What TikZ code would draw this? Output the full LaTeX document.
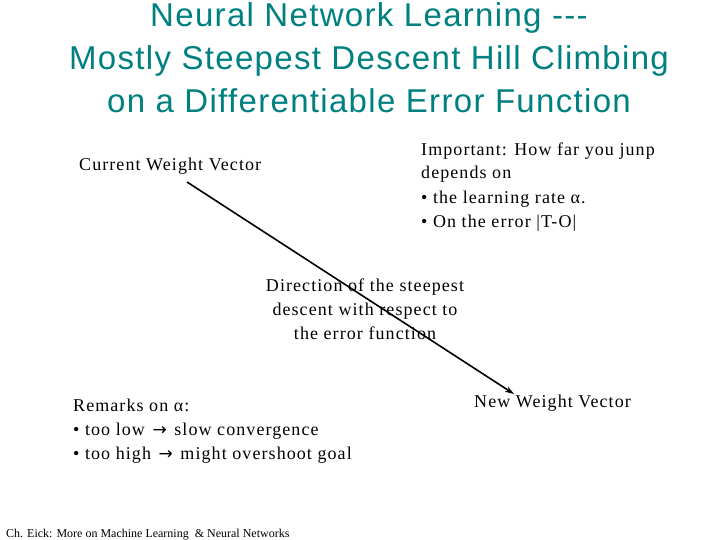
\documentclass[tikz,border=0pt]{standalone}
\usepackage{fontspec}
\setmainfont{Liberation Serif}[LetterSpace=6]
\newfontfamily\headfont{Liberation Sans}[LetterSpace=4]
\newfontfamily\notefont{Liberation Serif}
\newfontfamily\symfont{DejaVu Sans}
\newcommand{\goesto}{\hspace{2pt}{\symfont\fontsize{17}{24}\selectfont →}\hspace{2pt}}
\usetikzlibrary{arrows.meta}

\begin{document}
\begin{tikzpicture}[
    x=1pt, y=-1pt,
    >={Stealth[length=9pt, width=6pt]},
    % --- Styles ---
    heading/.style={
        font=\headfont\fontsize{33}{43}\selectfont,
        text=title_teal, align=center, inner sep=0pt, anchor=base
    },
    body/.style={
        font=\fontsize{18}{24}\selectfont,
        text=black, align=left, inner sep=0pt, anchor=base west
    },
    centred/.style={body, align=center, anchor=base},
    footer/.style={font=\notefont\fontsize{12}{14}\selectfont, inner sep=0pt, anchor=base west},
    move/.style={->, line width=1.6pt, draw=black}
]

    % ── Colour Palette ──────────────────────────────────────────────────
    \definecolor{title_teal}{RGB}{0, 128, 128}

    % page frame
    \useasboundingbox (0,0) rectangle (720,540);

    % ── NODES ───────────────────────────────────────────────────────────
    % (multi-line nodes sit on the baseline of their last line)

    % Title
    \node (title) [heading] at (369,113)
        {Neural Network Learning ---\\Mostly Steepest Descent Hill Climbing\\on a Differentiable Error Function};

    % Start and end of the step
    \node (current) [body] at (79,171) {Current Weight Vector};
    \node (new) [body] at (474,407) {New Weight Vector};

    % Step size note
    \node (important) [body] at (421,227)
        {Important: How far you junp\\depends on\\• the learning rate α.\\• On the error |T-O|};

    % Direction note
    \node (direction) [centred] at (365,339)
        {Direction of the steepest\\descent with respect to\\the error function};

    % Remarks
    \node (remarks) [body] at (73,459)
        {Remarks on α:\\• too low \goesto{} slow convergence\\• too high \goesto{} might overshoot goal};

    % Footer
    \node (credit) [footer] at (6,537) {Ch. Eick: More on Machine Learning \ \& Neural Networks};

    % ── ARROWS ──────────────────────────────────────────────────────────

    \coordinate (w_old) at (187,182);
    \coordinate (w_new) at (514,394);
    \draw [move] (w_old) -- (w_new);

\end{tikzpicture}
\end{document}
